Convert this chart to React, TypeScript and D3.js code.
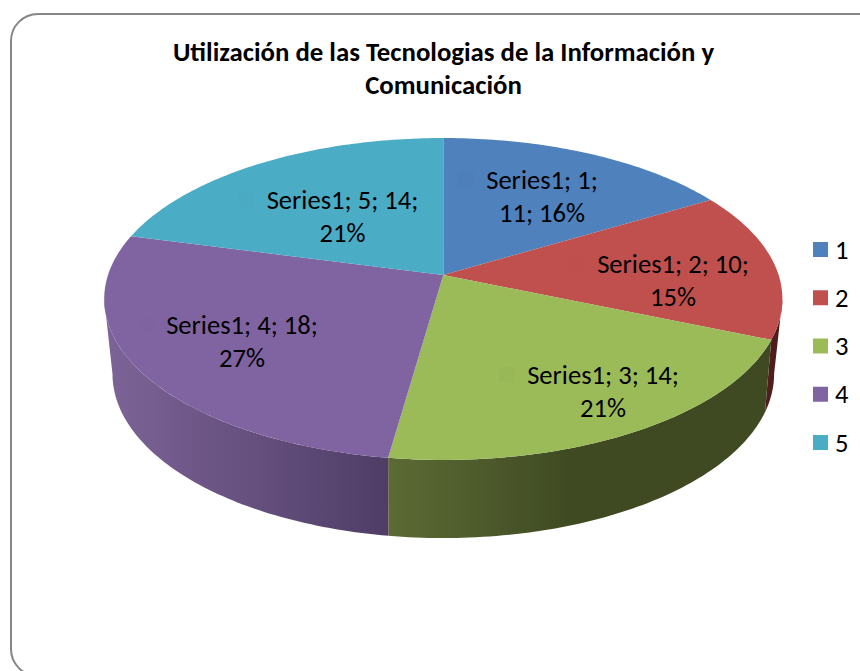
import React from "react";
import * as d3 from "d3";

const titleLines = ["Utilización de las Tecnologias de la Información y", "Comunicación"];
const categories = ["1", "2", "3", "4", "5"];
const seriesName = "Series1";
const values = [11, 10, 14, 18, 14];
const percents = ["16%", "15%", "21%", "27%", "21%"];
const topColors = ["#4f81bd", "#c0504d", "#9bbb59", "#8064a2", "#4bacc6"];
const keyColors = ["#4e7fba", "#be4f4c", "#98b858", "#7f63a0", "#4aaac4"];
const wallStops: string[][] = [
  ["#2c4463", "#2c4463"],
  ["#6e2a28", "#4a1b1b"],
  ["#5c6b35", "#3f4a22"],
  ["#7d6498", "#4f3d66"],
  ["#2a6272", "#2a6272"],
];
const wallRanges = [[443, 710], [700, 785], [388, 570], [105, 388], [131, 443]];
// label layout: centre of the first text line (baseline) as offsets from the pie apex, key offset from that centre
const labelOffsets = [[99, -86], [230, -2], [160, 109], [-201, 59], [-100.5, -66]];
const keyOffsets = [-83.5, -104.5, -104, -103.5, -103.5];
const labelLine1 = (i: number) => `${seriesName}; ${categories[i]}; ${i === 0 ? "" : values[i] + ";"}`.trim();
const labelLine2 = (i: number) => (i === 0 ? `${values[i]}; ${percents[i]}` : percents[i]);

const W = 860, H = 671;
const FONT = "Carlito, Lato, 'Open Sans', sans-serif";
const FS = 26.6;
const apex = { x: 443.3, y: 275 };
type Disc = { rx: number; ry: number; k: number; ay: number };
const topDisc: Disc = { rx: 335.3, ry: 157.4, k: -0.149, ay: 275 };
const bottomDisc: Disc = { rx: 326, ry: 159.4, k: -0.17, ay: 346 };

function project(theta: number, D: Disc): [number, number] {
  const u = Math.sin(theta), v = -Math.cos(theta);
  const d = 1 + D.k * v;
  return [apex.x + (D.rx * u) / d, D.ay + (D.ry * v) / d];
}

function arcPts(a0: number, a1: number, D: Disc) {
  const n = Math.max(2, Math.ceil(((a1 - a0) / (2 * Math.PI)) * 360));
  return d3.range(n + 1).map((i) => project(a0 + ((a1 - a0) * i) / n, D));
}

// clip an angular range to the part of the rim that faces the viewer
function visibleRange(a0: number, a1: number, D: Disc): [number, number] {
  const t = Math.acos(D.k);
  return [Math.max(a0, t), Math.min(a1, 2 * Math.PI - t)];
}

export default function App() {
  const arcs = d3.pie<number>().sort(null)(values);
  const line = d3.line();
  const legendY = d3.scaleLinear().domain([0, 4]).range([249.5, 442.5]);
  return (
    <svg width={W} height={H} style={{ position: "absolute", left: 0, top: 0, background: "#fff" }} fontFamily={FONT}>
      <defs>
        {arcs.map((_, i) => (
          <linearGradient key={i} id={`wall${i}`} gradientUnits="userSpaceOnUse" x1={wallRanges[i][0]} x2={wallRanges[i][1]} y1={0} y2={0}>
            <stop offset="0" stopColor={wallStops[i][0]} />
            <stop offset="1" stopColor={wallStops[i][1]} />
          </linearGradient>
        ))}
      </defs>
      <rect x={11} y={14} width={920} height={662} rx={27} fill="#fff" stroke="#868686" strokeWidth={2} />
      {titleLines.map((t, i) => (
        <text key={t} x={443.5} y={61 + i * 32.5} textAnchor="middle" fontSize={26.8} fontWeight={700} fill="#000">{t}</text>
      ))}
      {[1, 2, 3].map((i) => {
        const a = arcs[i];
        const [t0, t1] = visibleRange(a.startAngle, a.endAngle, topDisc);
        const [b0, b1] = visibleRange(a.startAngle, a.endAngle, bottomDisc);
        const pts = [...arcPts(t0, t1, topDisc), ...arcPts(b0, b1, bottomDisc).reverse()];
        return <path key={i} d={line(pts as [number, number][]) + "Z"} fill={`url(#wall${i})`} />;
      })}
      {arcs.map((a, i) => {
        const pts = [[apex.x, topDisc.ay], ...arcPts(a.startAngle, a.endAngle, topDisc)];
        return <path key={i} d={line(pts as [number, number][]) + "Z"} fill={topColors[i]} />;
      })}
      {arcs.map((_, i) => {
        const cx = 443 + labelOffsets[i][0], by = topDisc.ay + labelOffsets[i][1];
        return (
          <g key={i}>
            <rect x={cx + keyOffsets[i]} y={by - 17} width={15} height={15} fill={keyColors[i]} />
            <text x={cx} y={by} textAnchor="middle" fontSize={FS} fill="#000">{labelLine1(i)}</text>
            <text x={cx} y={by + 33.3} textAnchor="middle" fontSize={FS} fill="#000">{labelLine2(i)}</text>
          </g>
        );
      })}
      {categories.map((c, i) => (
        <g key={c}>
          <rect x={813} y={legendY(i) - 7.5} width={15} height={15} fill={topColors[i]} />
          <text x={835} y={legendY(i) + 9} fontSize={FS} fill="#000">{c}</text>
        </g>
      ))}
    </svg>
  );
}
